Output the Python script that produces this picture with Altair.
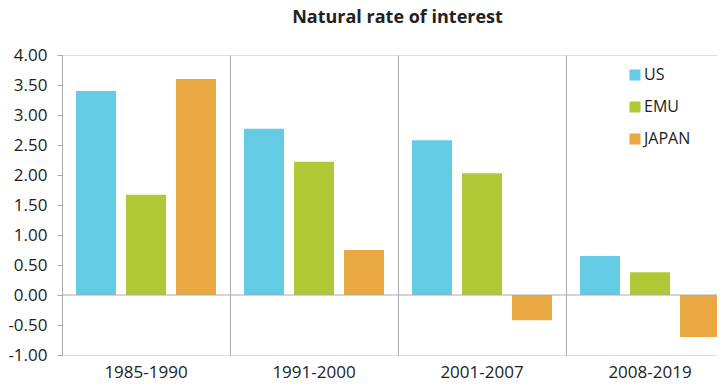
import altair as alt
import pandas as pd

periods = ["1985-1990", "1991-2000", "2001-2007", "2008-2019"]
series = ["US", "EMU", "JAPAN"]
us = [3.40, 2.77, 2.58, 0.65]
emu = [1.67, 2.22, 2.03, 0.38]
japan = [3.60, 0.75, -0.42, -0.70]
colors = ["#63CBE3", "#B2C937", "#EAA843"]
y_ticks = [-1.0, -0.5, 0.0, 0.5, 1.0, 1.5, 2.0, 2.5, 3.0, 3.5, 4.0]

rows = []
for name, vals in zip(series, [us, emu, japan]):
    for p, v in zip(periods, vals):
        rows.append({"period": p, "series": name, "value": v})
df = pd.DataFrame(rows)

FONT = "Open Sans"
W = 655        # visible plot width (page is clipped at the right, like the reference)
FULL = 672     # full width of the four period groups

y_scale = alt.Scale(domain=[-1, 4], nice=False)
y_axis = alt.Axis(title=None, values=y_ticks, grid=False, labelOverlap=False,
                  labelExpr="replace(format(datum.value, '.2f'), '\u2212', '-')",
                  domainColor="#aaaaaa", tickColor="#aaaaaa", tickSize=5,
                  labelFontSize=17, labelColor="#222222", labelPadding=10,
                  labelFont=FONT)

bars = alt.Chart(df).mark_bar().encode(
    x=alt.X("period:N", sort=periods,
            scale=alt.Scale(paddingInner=0, paddingOuter=0, range=[0, FULL]),
            axis=alt.Axis(title=None, bandPosition=0, grid=True, gridColor="#aaaaaa",
                          gridWidth=1, ticks=False, domain=False,
                          labelAngle=0, labelFontSize=17, labelColor="#222222",
                          labelPadding=9, labelFont=FONT)),
    xOffset=alt.XOffset("series:N", sort=series,
                        scale=alt.Scale(paddingInner=0.2, paddingOuter=0.28)),
    y=alt.Y("value:Q", scale=y_scale, axis=y_axis),
    color=alt.Color("series:N", sort=series,
                    scale=alt.Scale(domain=series, range=colors),
                    legend=alt.Legend(title=None, orient="none", legendX=565, legendY=12,
                                      symbolType="square", symbolSize=121,
                                      symbolStrokeWidth=0, labelFontSize=16,
                                      labelColor="#222222", labelFont=FONT,
                                      rowPadding=16, labelOffset=1)),
)

zero = alt.Chart(pd.DataFrame({"y": [0]})).mark_rule(color="#aaaaaa", strokeWidth=1).encode(
    y=alt.Y("y:Q", scale=y_scale, axis=y_axis)
)

chart = alt.layer(bars, zero).properties(
    width=W, height=300,
    autosize=alt.AutoSizeParams(type="none"),
    padding={"left": 54, "top": 47, "right": 0, "bottom": 27},
    title=alt.TitleParams("Natural rate of interest", fontSize=18, fontWeight="bold",
                          anchor="middle", font=FONT, color="#222222", offset=19,
                          dx=8),
).configure_view(stroke=None).configure(font=FONT)

chart.save("out.html", embed_options={"renderer": "svg", "actions": False})
